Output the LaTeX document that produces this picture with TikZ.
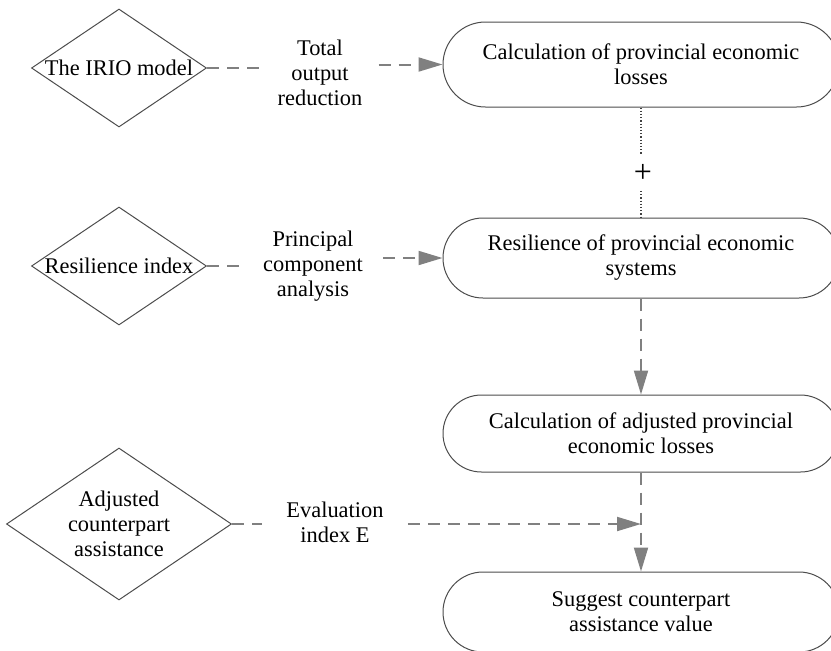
\documentclass[tikz,border=0pt]{standalone}
\usepackage{fontspec}
\setmainfont{Liberation Serif}
\usetikzlibrary{shapes.geometric,shapes.misc,arrows.meta}
\begin{document}
\begin{tikzpicture}[x=0.5pt,y=-0.5pt,
  font=\fontsize{11.2}{12.5}\selectfont,
  stad/.style={rounded rectangle, draw=black!70, line width=0.5pt, minimum width=198pt, align=center, inner sep=0pt},
  dia/.style={diamond, draw=black!70, line width=0.5pt, inner sep=0pt},
  lab/.style={align=center, inner ysep=0pt},
  conn/.style={draw=black!50, line width=1pt, dash pattern=on 6pt off 4pt},
  arr/.style={conn, -{Triangle[length=12pt,width=7pt]}},
  dots/.style={draw=black!75, line width=0.6pt, dash pattern=on 0.6pt off 1pt}
]
\useasboundingbox (0,0) rectangle (831,650);

% stadium nodes
\node[stad, minimum height=42.5pt] (s1) at (641,64.5) {Calculation of provincial economic\\losses};
\node[stad, minimum height=40pt] (s2) at (641,258) {Resilience of provincial economic\\systems};
\node[stad, minimum height=38.5pt] (s3) at (641,433.5) {Calculation of adjusted provincial\\economic losses};
\node[stad, minimum height=40pt] (s4) at (641,612) {Suggest counterpart\\assistance value};

% diamonds
\node[dia, minimum width=87.5pt, minimum height=59pt] (d1) at (119,68) {};
\node at (d1.center) {The IRIO model};
\node[dia, minimum width=87.5pt, minimum height=59pt] (d2) at (119,266) {};
\node at (d2.center) {Resilience index};
\node[dia, minimum width=112.5pt, minimum height=76pt] (d3) at (119,524) {};
\node[align=center] at (d3.center) {Adjusted\\counterpart\\assistance};

% labels
\node[lab, inner xsep=8pt] (l1) at (320,73) {Total\\output\\reduction};
\node[lab, inner xsep=10pt] (l2) at (313,266) {Principal\\component\\analysis};
\node[lab, inner xsep=12pt] (l3) at (335,522) {Evaluation\\index E};

% plus
\node[inner sep=0pt, minimum height=17.5pt] (plus) at (643,173) {\fontsize{16}{16}\selectfont +};

% connectors
\draw[conn] (d1.east) -- (l1.west |- d1.east);
\draw[arr] (l1.east |- s1.west) -- (s1.west);
\draw[conn] (d2.east) -- (l2.west |- d2.east);
\draw[arr] (l2.east |- s2.west) -- (s2.west);
\coordinate (j) at (s3.south |- d3.east);
\draw[conn] (d3.east) -- (l3.west |- d3.east);
\draw[arr] (l3.east |- d3.east) -- (j);
\draw[arr] (s2.south) -- (s3.north);
\draw[arr] (s3.south) -- (s4.north);
\draw[dots] (s1.south) -- (s1.south |- plus.north);
\draw[dots] (s2.north |- plus.south) -- (s2.north);
\end{tikzpicture}
\end{document}
